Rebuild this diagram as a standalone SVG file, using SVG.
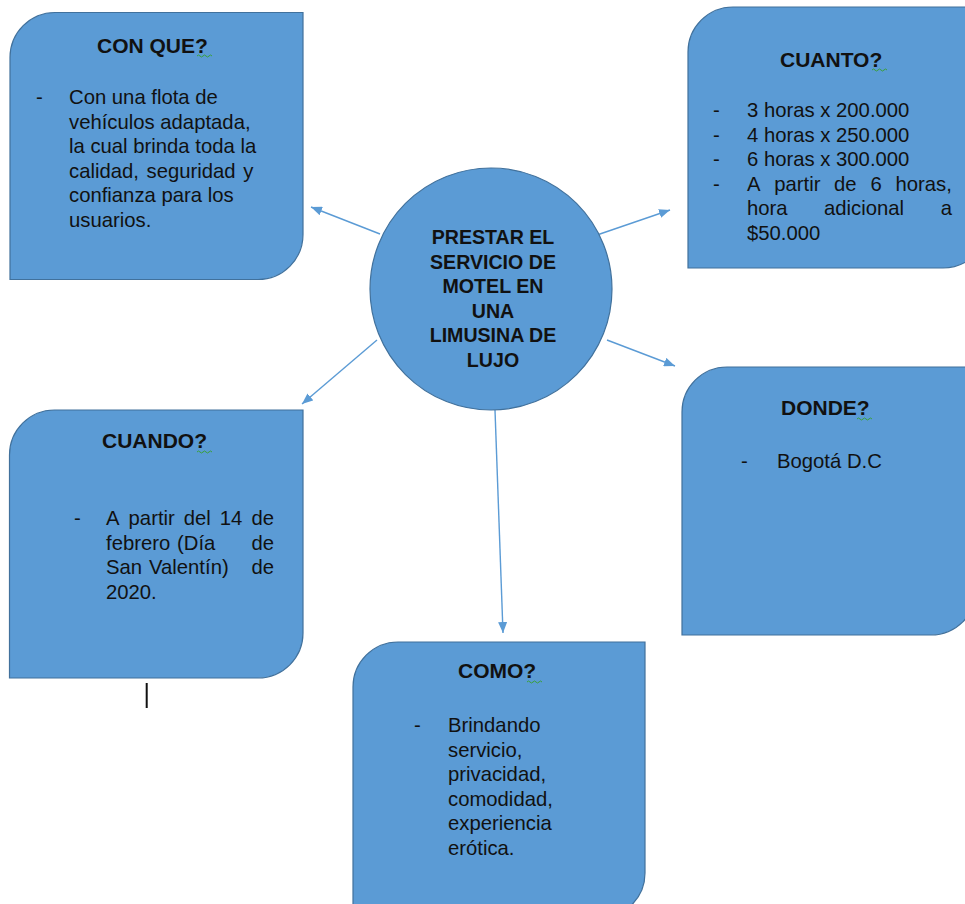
<svg xmlns="http://www.w3.org/2000/svg" width="965" height="904" viewBox="0 0 965 904">
<style>
.box{fill:#5b9bd5;stroke:#41719c;stroke-width:1.2}
.ttl{font-family:"Liberation Sans",Arial,sans-serif;font-weight:bold;font-size:21px;fill:#111}
.ctr{font-family:"Liberation Sans",Arial,sans-serif;font-weight:bold;font-size:19.6px;fill:#111;text-anchor:middle}
.bd{font-family:"Liberation Sans",Arial,sans-serif;font-size:20.3px;fill:#111}
.conn{stroke:#5b9bd5;stroke-width:1.4;fill:none;marker-end:url(#ah)}
.sq{stroke:#3aa03a;stroke-width:1;fill:none}
</style>
<defs>
<marker id="ah" markerUnits="userSpaceOnUse" markerWidth="11" markerHeight="9" refX="11" refY="4.5" orient="auto">
<path d="M0,0 L11,4.5 L0,9 Z" fill="#5b9bd5"/>
</marker>
</defs>
<rect width="965" height="904" fill="#ffffff"/>

<g id="connectors">
<line class="conn" x1="380" y1="234" x2="311" y2="207"/>
<line class="conn" x1="597" y1="235" x2="670" y2="210"/>
<line class="conn" x1="377" y1="340" x2="302" y2="404"/>
<line class="conn" x1="607" y1="340" x2="675" y2="366"/>
<line class="conn" x1="495" y1="410" x2="503" y2="633"/>
</g>

<g id="center">
<circle class="box" cx="491" cy="289" r="121"/>
<text class="ctr" x="493" y="244">PRESTAR EL</text>
<text class="ctr" x="493" y="268.6">SERVICIO DE</text>
<text class="ctr" x="493" y="293.2">MOTEL EN</text>
<text class="ctr" x="493" y="317.8">UNA</text>
<text class="ctr" x="493" y="342.4">LIMUSINA DE</text>
<text class="ctr" x="493" y="367">LUJO</text>
</g>

<g id="conque">
<path class="box" d="M10 57.5 A45 45 0 0 1 55 12.5 L303 12.5 L303 234.5 A45 45 0 0 1 258 279.5 L10 279.5 Z"/>
<text class="ttl" x="97" y="53">CON QUE?</text>
<path class="sq" d="M197 56 q1.5 -2 3 0 t3 0 t3 0 t3 0 t3 0"/>
<text class="bd" x="36" y="104">-</text>
<text class="bd" x="69" y="104">Con una flota de</text>
<text class="bd" x="69" y="128.5">vehículos adaptada,</text>
<text class="bd" x="69" y="153">la cual brinda toda la</text>
<text class="bd" x="69" y="177.5" word-spacing="2">calidad, seguridad y</text>
<text class="bd" x="69" y="202">confianza para los</text>
<text class="bd" x="69" y="226.5">usuarios.</text>
</g>

<g id="cuanto">
<path class="box" d="M688 52 A45 45 0 0 1 733 7 L988 7 L988 223 A45 45 0 0 1 943 268 L688 268 Z"/>
<text class="ttl" x="780" y="67">CUANTO?</text>
<path class="sq" d="M872 70 q1.5 -2 3 0 t3 0 t3 0 t3 0 t3 0"/>
<text class="bd" x="713" y="117">-</text>
<text class="bd" x="713" y="141.5">-</text>
<text class="bd" x="713" y="166">-</text>
<text class="bd" x="713" y="190.5">-</text>
<text class="bd" x="747" y="117">3 horas x 200.000</text>
<text class="bd" x="747" y="141.5">4 horas x 250.000</text>
<text class="bd" x="747" y="166">6 horas x 300.000</text>
<text class="bd" y="190.5"><tspan x="747">A</tspan><tspan x="774.3">partir</tspan><tspan x="834">de</tspan><tspan x="870.4">6</tspan><tspan x="895.5">horas,</tspan></text>
<text class="bd" y="215"><tspan x="747">hora</tspan><tspan x="824">adicional</tspan><tspan x="940.7">a</tspan></text>
<text class="bd" x="747" y="239.5">$50.000</text>
</g>

<g id="cuando">
<path class="box" d="M9.5 455 A45 45 0 0 1 54.5 410 L303 410 L303 633 A45 45 0 0 1 258 678 L9.5 678 Z"/>
<text class="ttl" x="102" y="448">CUANDO?</text>
<path class="sq" d="M197 452 q1.5 -2 3 0 t3 0 t3 0 t3 0 t3 0"/>
<text class="bd" x="74" y="525">-</text>
<text class="bd" y="525"><tspan x="106">A</tspan><tspan x="128.6">partir</tspan><tspan x="183.7">del</tspan><tspan x="219.8">14</tspan><tspan x="251.4">de</tspan></text>
<text class="bd" y="549.5"><tspan x="106">febrero</tspan><tspan x="177">(Día</tspan><tspan x="251.4">de</tspan></text>
<text class="bd" y="574"><tspan x="106">San</tspan><tspan x="149">Valentín)</tspan><tspan x="251.4">de</tspan></text>
<text class="bd" x="106" y="598.5">2020.</text>
</g>

<g id="donde">
<path class="box" d="M682 412 A45 45 0 0 1 727 367 L976 367 L976 590 A45 45 0 0 1 931 635 L682 635 Z"/>
<text class="ttl" x="781" y="415">DONDE?</text>
<path class="sq" d="M857 419 q1.5 -2 3 0 t3 0 t3 0 t3 0 t3 0"/>
<text class="bd" x="741" y="468">-</text>
<text class="bd" x="777" y="468">Bogotá D.C</text>
</g>

<g id="como">
<path class="box" d="M353 687 A45 45 0 0 1 398 642 L645 642 L645 873 A45 45 0 0 1 600 918 L353 918 Z"/>
<text class="ttl" x="458" y="678">COMO?</text>
<path class="sq" d="M527 682 q1.5 -2 3 0 t3 0 t3 0 t3 0 t3 0"/>
<text class="bd" x="414" y="732">-</text>
<text class="bd" x="448" y="732">Brindando</text>
<text class="bd" x="448" y="756.5">servicio,</text>
<text class="bd" x="448" y="781">privacidad,</text>
<text class="bd" x="448" y="805.5">comodidad,</text>
<text class="bd" x="448" y="830">experiencia</text>
<text class="bd" x="448" y="854.5">erótica.</text>
</g>

<rect x="145.7" y="683" width="2" height="25" fill="#111"/>
</svg>
